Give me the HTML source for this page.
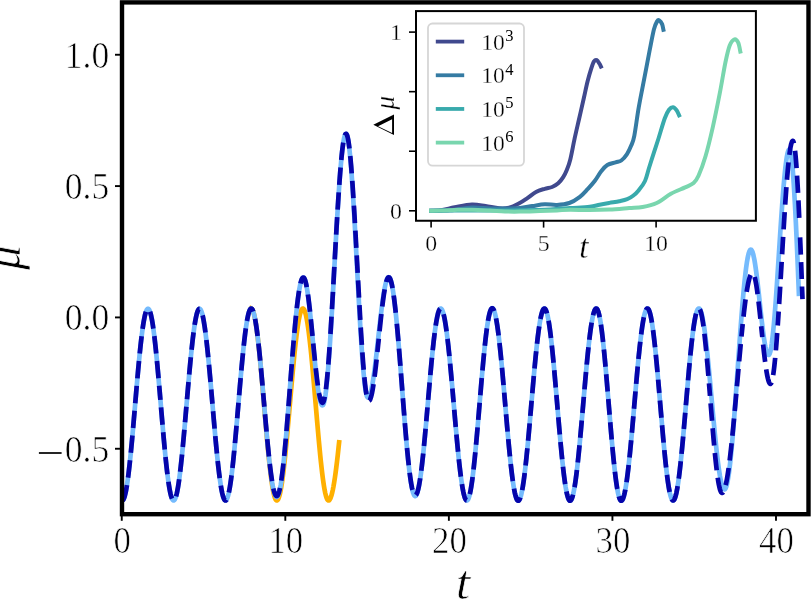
<!DOCTYPE html>
<html><head><meta charset="utf-8"><style>
html,body{margin:0;padding:0;background:#fff;width:811px;height:599px;overflow:hidden}
svg{display:block;font-family:"Liberation Serif",serif;fill:#000;will-change:transform}
text{stroke:#fff;stroke-width:0.3px}
.b{stroke-width:0.7px}
.s{stroke-width:0px}
</style></head><body>
<svg width="811" height="599" viewBox="0 0 811 599">
<defs><clipPath id="ax"><rect x="122" y="2.4" width="686.5" height="511.8"/></clipPath><clipPath id="iax"><rect x="416" y="11.1" width="339.9" height="209.65"/></clipPath></defs>
<g clip-path="url(#ax)" fill="none" stroke-linejoin="round">
<path d="M251.21 308.49 L251.85 308.79 L252.49 309.67 L253.13 311.14 L253.77 313.19 L254.41 315.80 L255.05 318.95 L255.69 322.64 L256.33 326.82 L256.97 331.49 L257.61 336.61 L258.25 342.14 L258.89 348.06 L259.53 354.33 L260.17 360.91 L260.81 367.76 L261.45 374.83 L262.09 382.08 L262.73 389.48 L263.37 396.96 L264.01 404.50 L264.65 412.03 L265.29 419.51 L265.93 426.91 L266.57 434.16 L267.21 441.23 L267.85 448.08 L268.49 454.66 L269.13 460.93 L269.77 466.85 L270.41 472.38 L271.05 477.50 L271.69 482.17 L272.33 486.35 L272.97 490.04 L273.61 493.19 L274.25 495.80 L274.89 497.85 L275.53 499.32 L276.16 500.21 L276.80 500.50 L277.46 500.21 L278.11 499.32 L278.76 497.85 L279.41 495.80 L280.07 493.19 L280.72 490.04 L281.37 486.35 L282.02 482.17 L282.67 477.50 L283.33 472.38 L283.98 466.85 L284.63 460.93 L285.28 454.66 L285.94 448.08 L286.59 441.23 L287.24 434.16 L287.89 426.91 L288.54 419.51 L289.20 412.03 L289.85 404.50 L290.50 396.96 L291.15 389.48 L291.81 382.08 L292.46 374.83 L293.11 367.76 L293.76 360.91 L294.41 354.33 L295.07 348.06 L295.72 342.14 L296.37 336.61 L297.02 331.49 L297.68 326.82 L298.33 322.64 L298.98 318.95 L299.63 315.80 L300.28 313.19 L300.94 311.14 L301.59 309.67 L302.24 308.79 L302.89 308.49 L303.53 308.79 L304.17 309.67 L304.81 311.14 L305.45 313.19 L306.09 315.80 L306.73 318.95 L307.37 322.64 L308.01 326.82 L308.65 331.49 L309.29 336.61 L309.93 342.14 L310.57 348.06 L311.21 354.33 L311.85 360.91 L312.49 367.76 L313.13 374.83 L313.77 382.08 L314.41 389.48 L315.05 396.96 L315.69 404.50 L316.33 412.03 L316.97 419.51 L317.61 426.91 L318.25 434.16 L318.89 441.23 L319.53 448.08 L320.17 454.66 L320.81 460.93 L321.45 466.85 L322.09 472.38 L322.73 477.50 L323.37 482.17 L324.01 486.35 L324.65 490.04 L325.29 493.19 L325.93 495.80 L326.57 497.85 L327.21 499.32 L327.85 500.21 L328.49 500.50 L329.21 500.21 L329.92 499.32 L330.64 497.85 L331.35 495.80 L332.07 493.19 L332.78 490.04 L333.50 486.35 L334.21 482.17 L334.93 477.50 L335.65 472.38 L336.36 466.85 L337.08 460.93 L337.79 454.66 L338.51 448.08 L339.12 442.23" stroke="#ffb000" stroke-width="4.70" stroke-linecap="square"/>
<path d="M122.24 500.50 L122.88 500.21 L123.53 499.32 L124.17 497.85 L124.82 495.81 L125.46 493.20 L126.10 490.05 L126.75 486.37 L127.39 482.19 L128.04 477.53 L128.68 472.42 L129.32 466.89 L129.97 460.98 L130.61 454.72 L131.26 448.15 L131.90 441.32 L132.54 434.25 L133.19 427.01 L133.83 419.62 L134.48 412.15 L135.12 404.63 L135.77 397.10 L136.41 389.63 L137.05 382.24 L137.70 375.00 L138.34 367.94 L138.99 361.10 L139.63 354.53 L140.27 348.27 L140.92 342.36 L141.56 336.83 L142.21 331.72 L142.85 327.06 L143.49 322.88 L144.14 319.20 L144.78 316.05 L145.43 313.44 L146.07 311.40 L146.71 309.93 L147.36 309.05 L148.00 308.75 L148.64 309.05 L149.28 309.93 L149.92 311.40 L150.56 313.44 L151.20 316.05 L151.84 319.20 L152.48 322.88 L153.12 327.06 L153.76 331.72 L154.40 336.83 L155.04 342.36 L155.68 348.27 L156.32 354.53 L156.96 361.10 L157.60 367.94 L158.24 375.00 L158.88 382.24 L159.52 389.63 L160.16 397.10 L160.80 404.63 L161.44 412.15 L162.08 419.62 L162.72 427.01 L163.36 434.25 L164.00 441.32 L164.64 448.15 L165.28 454.72 L165.92 460.98 L166.56 466.89 L167.20 472.42 L167.84 477.53 L168.48 482.19 L169.12 486.37 L169.76 490.05 L170.40 493.20 L171.04 495.81 L171.68 497.85 L172.32 499.32 L172.96 500.21 L173.60 500.50 L174.25 500.21 L174.89 499.32 L175.54 497.85 L176.19 495.81 L176.84 493.20 L177.48 490.05 L178.13 486.37 L178.78 482.19 L179.43 477.53 L180.08 472.42 L180.72 466.89 L181.37 460.98 L182.02 454.72 L182.67 448.15 L183.31 441.32 L183.96 434.25 L184.61 427.01 L185.26 419.62 L185.90 412.15 L186.55 404.63 L187.20 397.10 L187.85 389.63 L188.50 382.24 L189.14 375.00 L189.79 367.94 L190.44 361.10 L191.09 354.53 L191.73 348.27 L192.38 342.36 L193.03 336.83 L193.68 331.72 L194.32 327.06 L194.97 322.88 L195.62 319.20 L196.27 316.05 L196.92 313.44 L197.56 311.40 L198.21 309.93 L198.86 309.05 L199.51 308.75 L200.16 309.05 L200.81 309.93 L201.46 311.40 L202.11 313.44 L202.76 316.05 L203.40 319.20 L204.05 322.88 L204.70 327.06 L205.35 331.72 L206.00 336.83 L206.65 342.36 L207.30 348.27 L207.95 354.53 L208.60 361.10 L209.25 367.94 L209.90 375.00 L210.55 382.24 L211.20 389.63 L211.85 397.10 L212.50 404.63 L213.15 412.15 L213.80 419.62 L214.45 427.01 L215.10 434.25 L215.75 441.32 L216.40 448.15 L217.05 454.72 L217.70 460.98 L218.35 466.89 L219.00 472.42 L219.65 477.53 L220.30 482.19 L220.95 486.37 L221.60 490.05 L222.25 493.20 L222.90 495.81 L223.55 497.85 L224.20 499.32 L224.85 500.21 L225.50 500.50 L226.14 500.21 L226.78 499.32 L227.42 497.85 L228.07 495.80 L228.71 493.19 L229.35 490.04 L230.00 486.35 L230.64 482.17 L231.28 477.50 L231.92 472.38 L232.57 466.85 L233.21 460.93 L233.85 454.66 L234.50 448.08 L235.14 441.23 L235.78 434.16 L236.42 426.91 L237.07 419.51 L237.71 412.03 L238.35 404.50 L238.99 396.96 L239.64 389.48 L240.28 382.08 L240.92 374.83 L241.57 367.76 L242.21 360.91 L242.85 354.33 L243.49 348.06 L244.14 342.14 L244.78 336.61 L245.42 331.49 L246.07 326.82 L246.71 322.64 L247.35 318.95 L247.99 315.80 L248.64 313.19 L249.28 311.14 L249.92 309.67 L250.56 308.79 L251.21 308.49 L251.85 308.78 L252.48 309.65 L253.12 311.09 L253.76 313.10 L254.40 315.67 L255.03 318.77 L255.67 322.39 L256.31 326.50 L256.95 331.08 L257.58 336.11 L258.22 341.55 L258.86 347.36 L259.49 353.52 L260.13 359.98 L260.77 366.70 L261.41 373.65 L262.04 380.77 L262.68 388.04 L263.32 395.39 L263.96 402.79 L264.59 410.19 L265.23 417.54 L265.87 424.80 L266.51 431.93 L267.14 438.87 L267.78 445.60 L268.42 452.06 L269.06 458.22 L269.69 464.03 L270.33 469.47 L270.97 474.49 L271.61 479.08 L272.24 483.19 L272.88 486.81 L273.52 489.91 L274.16 492.47 L274.79 494.48 L275.43 495.93 L276.07 496.80 L276.71 497.09 L277.37 496.75 L278.04 495.73 L278.70 494.05 L279.37 491.71 L280.03 488.73 L280.70 485.12 L281.36 480.91 L282.03 476.12 L282.69 470.78 L283.36 464.93 L284.02 458.60 L284.69 451.83 L285.35 444.66 L286.01 437.14 L286.68 429.31 L287.34 421.22 L288.01 412.92 L288.67 404.47 L289.34 395.90 L290.00 387.29 L290.67 378.68 L291.33 370.11 L292.00 361.66 L292.66 353.36 L293.33 345.27 L293.99 337.44 L294.66 329.92 L295.32 322.75 L295.99 315.98 L296.65 309.65 L297.32 303.80 L297.98 298.46 L298.65 293.67 L299.31 289.46 L299.98 285.85 L300.64 282.87 L301.31 280.53 L301.97 278.85 L302.64 277.83 L303.30 277.49 L303.78 277.69 L304.26 278.28 L304.74 279.26 L305.22 280.62 L305.70 282.36 L306.18 284.47 L306.66 286.92 L307.14 289.71 L307.62 292.82 L308.10 296.23 L308.58 299.92 L309.06 303.86 L309.54 308.04 L310.02 312.42 L310.50 316.98 L310.98 321.69 L311.46 326.52 L311.94 331.45 L312.42 336.44 L312.90 341.45 L313.38 346.47 L313.86 351.46 L314.34 356.39 L314.82 361.22 L315.30 365.93 L315.78 370.49 L316.26 374.87 L316.74 379.05 L317.22 382.99 L317.70 386.68 L318.18 390.09 L318.66 393.20 L319.14 395.99 L319.62 398.44 L320.10 400.55 L320.58 402.28 L321.06 403.65 L321.54 404.63 L322.02 405.22 L322.50 405.41 L323.09 405.00 L323.68 403.74 L324.27 401.66 L324.85 398.77 L325.44 395.08 L326.03 390.61 L326.62 385.40 L327.20 379.48 L327.79 372.88 L328.38 365.64 L328.97 357.81 L329.55 349.44 L330.14 340.57 L330.73 331.27 L331.32 321.58 L331.90 311.58 L332.49 301.32 L333.08 290.86 L333.67 280.27 L334.26 269.61 L334.84 258.96 L335.43 248.37 L336.02 237.91 L336.61 227.65 L337.19 217.65 L337.78 207.96 L338.37 198.66 L338.96 189.79 L339.54 181.42 L340.13 173.59 L340.72 166.35 L341.31 159.75 L341.89 153.83 L342.48 148.62 L343.07 144.15 L343.66 140.46 L344.24 137.57 L344.83 135.49 L345.42 134.23 L346.01 133.81 L346.55 134.22 L347.10 135.44 L347.65 137.46 L348.20 140.27 L348.74 143.85 L349.29 148.19 L349.84 153.24 L350.39 159.00 L350.93 165.41 L351.48 172.43 L352.03 180.04 L352.58 188.17 L353.12 196.78 L353.67 205.81 L354.22 215.21 L354.77 224.93 L355.31 234.89 L355.86 245.05 L356.41 255.33 L356.96 265.67 L357.50 276.02 L358.05 286.30 L358.60 296.46 L359.15 306.42 L359.70 316.13 L360.24 325.54 L360.79 334.57 L361.34 343.18 L361.89 351.31 L362.43 358.91 L362.98 365.94 L363.53 372.35 L364.08 378.10 L364.62 383.16 L365.17 387.50 L365.72 391.08 L366.27 393.89 L366.81 395.91 L367.36 397.13 L367.91 397.53 L368.43 397.35 L368.95 396.79 L369.47 395.87 L369.99 394.59 L370.51 392.96 L371.03 390.98 L371.55 388.67 L372.08 386.05 L372.60 383.12 L373.12 379.92 L373.64 376.45 L374.16 372.74 L374.68 368.81 L375.20 364.69 L375.72 360.40 L376.24 355.97 L376.76 351.42 L377.28 346.79 L377.81 342.10 L378.33 337.38 L378.85 332.66 L379.37 327.97 L379.89 323.34 L380.41 318.80 L380.93 314.36 L381.45 310.07 L381.97 305.95 L382.49 302.03 L383.02 298.32 L383.54 294.85 L384.06 291.64 L384.58 288.72 L385.10 286.10 L385.62 283.79 L386.14 281.81 L386.66 280.18 L387.18 278.89 L387.70 277.97 L388.22 277.42 L388.75 277.23 L389.41 277.57 L390.07 278.58 L390.73 280.25 L391.39 282.59 L392.05 285.56 L392.71 289.16 L393.37 293.35 L394.03 298.13 L394.70 303.44 L395.36 309.27 L396.02 315.58 L396.68 322.33 L397.34 329.47 L398.00 336.97 L398.66 344.77 L399.32 352.83 L399.99 361.09 L400.65 369.52 L401.31 378.05 L401.97 386.63 L402.63 395.22 L403.29 403.75 L403.95 412.17 L404.61 420.44 L405.28 428.50 L405.94 436.30 L406.60 443.80 L407.26 450.94 L407.92 457.68 L408.58 463.99 L409.24 469.82 L409.90 475.14 L410.56 479.91 L411.23 484.11 L411.89 487.71 L412.55 490.68 L413.21 493.01 L413.87 494.69 L414.53 495.70 L415.19 496.04 L415.83 495.75 L416.47 494.88 L417.11 493.44 L417.74 491.45 L418.38 488.90 L419.02 485.81 L419.66 482.22 L420.29 478.13 L420.93 473.57 L421.57 468.57 L422.21 463.16 L422.84 457.38 L423.48 451.26 L424.12 444.83 L424.76 438.15 L425.39 431.24 L426.03 424.15 L426.67 416.93 L427.31 409.62 L427.94 402.26 L428.58 394.91 L429.22 387.59 L429.85 380.37 L430.49 373.28 L431.13 366.38 L431.77 359.69 L432.40 353.27 L433.04 347.14 L433.68 341.36 L434.32 335.95 L434.95 330.96 L435.59 326.40 L436.23 322.31 L436.87 318.71 L437.50 315.63 L438.14 313.08 L438.78 311.08 L439.42 309.64 L440.05 308.78 L440.69 308.49 L441.35 308.79 L442.00 309.67 L442.65 311.14 L443.31 313.19 L443.96 315.80 L444.62 318.95 L445.27 322.64 L445.93 326.82 L446.58 331.49 L447.23 336.61 L447.89 342.14 L448.54 348.06 L449.20 354.33 L449.85 360.91 L450.51 367.76 L451.16 374.83 L451.81 382.08 L452.47 389.48 L453.12 396.96 L453.78 404.50 L454.43 412.03 L455.09 419.51 L455.74 426.91 L456.39 434.16 L457.05 441.23 L457.70 448.08 L458.36 454.66 L459.01 460.93 L459.66 466.85 L460.32 472.38 L460.97 477.50 L461.63 482.17 L462.28 486.35 L462.94 490.04 L463.59 493.19 L464.24 495.80 L464.90 497.85 L465.55 499.32 L466.21 500.21 L466.86 500.50 L467.50 500.20 L468.13 499.32 L468.76 497.84 L469.40 495.80 L470.03 493.18 L470.66 490.02 L471.30 486.33 L471.93 482.14 L472.57 477.47 L473.20 472.34 L473.83 466.80 L474.47 460.87 L475.10 454.60 L475.73 448.01 L476.37 441.15 L477.00 434.07 L477.64 426.81 L478.27 419.40 L478.90 411.91 L479.54 404.36 L480.17 396.82 L480.81 389.32 L481.44 381.92 L482.07 374.66 L482.71 367.57 L483.34 360.72 L483.97 354.13 L484.61 347.86 L485.24 341.93 L485.88 336.38 L486.51 331.26 L487.14 326.59 L487.78 322.39 L488.41 318.70 L489.04 315.54 L489.68 312.93 L490.31 310.88 L490.95 309.41 L491.58 308.52 L492.21 308.23 L492.86 308.52 L493.51 309.41 L494.16 310.89 L494.81 312.94 L495.46 315.55 L496.11 318.72 L496.76 322.41 L497.41 326.61 L498.06 331.29 L498.71 336.42 L499.37 341.97 L500.02 347.91 L500.67 354.19 L501.32 360.79 L501.97 367.65 L502.62 374.75 L503.27 382.02 L503.92 389.44 L504.57 396.94 L505.22 404.50 L505.87 412.05 L506.52 419.55 L507.17 426.97 L507.82 434.24 L508.47 441.34 L509.12 448.20 L509.77 454.80 L510.42 461.08 L511.07 467.02 L511.72 472.57 L512.37 477.70 L513.02 482.38 L513.67 486.58 L514.32 490.27 L514.97 493.44 L515.62 496.05 L516.27 498.10 L516.92 499.58 L517.57 500.47 L518.22 500.76 L518.87 500.47 L519.53 499.58 L520.18 498.11 L520.84 496.06 L521.49 493.45 L522.14 490.29 L522.80 486.60 L523.45 482.40 L524.11 477.73 L524.76 472.61 L525.42 467.06 L526.07 461.13 L526.72 454.86 L527.38 448.27 L528.03 441.42 L528.69 434.33 L529.34 427.07 L530.00 419.67 L530.65 412.17 L531.30 404.63 L531.96 397.08 L532.61 389.59 L533.27 382.18 L533.92 374.92 L534.58 367.84 L535.23 360.98 L535.88 354.39 L536.54 348.12 L537.19 342.19 L537.85 336.65 L538.50 331.52 L539.16 326.85 L539.81 322.66 L540.46 318.97 L541.12 315.81 L541.77 313.19 L542.43 311.15 L543.08 309.67 L543.73 308.79 L544.39 308.49 L545.03 308.79 L545.67 309.67 L546.31 311.15 L546.96 313.19 L547.60 315.81 L548.24 318.97 L548.88 322.66 L549.52 326.85 L550.17 331.52 L550.81 336.65 L551.45 342.19 L552.09 348.12 L552.73 354.39 L553.38 360.98 L554.02 367.84 L554.66 374.92 L555.30 382.18 L555.94 389.59 L556.59 397.08 L557.23 404.63 L557.87 412.17 L558.51 419.67 L559.15 427.07 L559.80 434.33 L560.44 441.42 L561.08 448.27 L561.72 454.86 L562.36 461.13 L563.01 467.06 L563.65 472.61 L564.29 477.73 L564.93 482.40 L565.57 486.60 L566.22 490.29 L566.86 493.45 L567.50 496.06 L568.14 498.11 L568.78 499.58 L569.43 500.47 L570.07 500.76 L570.72 500.47 L571.38 499.58 L572.03 498.11 L572.68 496.06 L573.34 493.45 L573.99 490.29 L574.65 486.60 L575.30 482.40 L575.96 477.73 L576.61 472.61 L577.26 467.06 L577.92 461.13 L578.57 454.86 L579.23 448.27 L579.88 441.42 L580.54 434.33 L581.19 427.07 L581.84 419.67 L582.50 412.17 L583.15 404.63 L583.81 397.08 L584.46 389.59 L585.12 382.18 L585.77 374.92 L586.42 367.84 L587.08 360.98 L587.73 354.39 L588.39 348.12 L589.04 342.19 L589.70 336.65 L590.35 331.52 L591.00 326.85 L591.66 322.66 L592.31 318.97 L592.97 315.81 L593.62 313.19 L594.27 311.15 L594.93 309.67 L595.58 308.79 L596.24 308.49 L596.86 308.79 L597.49 309.67 L598.11 311.15 L598.74 313.19 L599.37 315.81 L599.99 318.97 L600.62 322.66 L601.24 326.85 L601.87 331.52 L602.49 336.65 L603.12 342.19 L603.74 348.12 L604.37 354.39 L605.00 360.98 L605.62 367.84 L606.25 374.92 L606.87 382.18 L607.50 389.59 L608.12 397.08 L608.75 404.63 L609.38 412.17 L610.00 419.67 L610.63 427.07 L611.25 434.33 L611.88 441.42 L612.50 448.27 L613.13 454.86 L613.75 461.13 L614.38 467.06 L615.01 472.61 L615.63 477.73 L616.26 482.40 L616.88 486.60 L617.51 490.29 L618.13 493.45 L618.76 496.06 L619.39 498.11 L620.01 499.58 L620.64 500.47 L621.26 500.76 L621.92 500.47 L622.57 499.58 L623.22 498.11 L623.88 496.06 L624.53 493.45 L625.19 490.29 L625.84 486.60 L626.50 482.40 L627.15 477.73 L627.80 472.61 L628.46 467.06 L629.11 461.13 L629.77 454.86 L630.42 448.27 L631.08 441.42 L631.73 434.33 L632.38 427.07 L633.04 419.67 L633.69 412.17 L634.35 404.63 L635.00 397.08 L635.66 389.59 L636.31 382.18 L636.96 374.92 L637.62 367.84 L638.27 360.98 L638.93 354.39 L639.58 348.12 L640.24 342.19 L640.89 336.65 L641.54 331.52 L642.20 326.85 L642.85 322.66 L643.51 318.97 L644.16 315.81 L644.81 313.19 L645.47 311.15 L646.12 309.67 L646.78 308.79 L647.43 308.49 L648.07 308.79 L648.72 309.67 L649.36 311.14 L650.00 313.19 L650.64 315.80 L651.28 318.95 L651.93 322.64 L652.57 326.82 L653.21 331.49 L653.85 336.61 L654.49 342.14 L655.14 348.06 L655.78 354.33 L656.42 360.91 L657.06 367.76 L657.70 374.83 L658.35 382.08 L658.99 389.48 L659.63 396.96 L660.27 404.50 L660.91 412.03 L661.56 419.51 L662.20 426.91 L662.84 434.16 L663.48 441.23 L664.12 448.08 L664.77 454.66 L665.41 460.93 L666.05 466.85 L666.69 472.38 L667.33 477.50 L667.97 482.17 L668.62 486.35 L669.26 490.04 L669.90 493.19 L670.54 495.80 L671.18 497.85 L671.83 499.32 L672.47 500.21 L673.11 500.50 L673.75 500.21 L674.39 499.32 L675.04 497.85 L675.68 495.80 L676.32 493.19 L676.96 490.04 L677.60 486.35 L678.25 482.17 L678.89 477.50 L679.53 472.38 L680.17 466.85 L680.81 460.93 L681.46 454.66 L682.10 448.08 L682.74 441.23 L683.38 434.16 L684.02 426.91 L684.67 419.51 L685.31 412.03 L685.95 404.50 L686.59 396.96 L687.23 389.48 L687.88 382.08 L688.52 374.83 L689.16 367.76 L689.80 360.91 L690.44 354.33 L691.09 348.06 L691.73 342.14 L692.37 336.61 L693.01 331.49 L693.65 326.82 L694.30 322.64 L694.94 318.95 L695.58 315.80 L696.22 313.19 L696.86 311.14 L697.51 309.67 L698.15 308.79 L698.79 308.49 L699.43 308.77 L700.07 309.60 L700.72 310.99 L701.36 312.92 L702.00 315.38 L702.64 318.35 L703.28 321.82 L703.93 325.77 L704.57 330.17 L705.21 334.99 L705.85 340.21 L706.49 345.79 L707.14 351.70 L707.78 357.90 L708.42 364.35 L709.06 371.02 L709.70 377.85 L710.35 384.82 L710.99 391.88 L711.63 398.98 L712.27 406.08 L712.91 413.13 L713.56 420.10 L714.20 426.94 L714.84 433.61 L715.48 440.06 L716.12 446.26 L716.76 452.17 L717.41 457.75 L718.05 462.96 L718.69 467.79 L719.33 472.19 L719.97 476.13 L720.62 479.61 L721.26 482.58 L721.90 485.04 L722.54 486.97 L723.18 488.35 L723.83 489.19 L724.47 489.47 L725.13 489.10 L725.79 487.99 L726.44 486.16 L727.10 483.60 L727.76 480.34 L728.42 476.40 L729.08 471.80 L729.74 466.57 L730.39 460.74 L731.05 454.35 L731.71 447.43 L732.37 440.04 L733.03 432.21 L733.69 424.00 L734.34 415.45 L735.00 406.61 L735.66 397.55 L736.32 388.32 L736.98 378.97 L737.64 369.56 L738.29 360.15 L738.95 350.80 L739.61 341.57 L740.27 332.51 L740.93 323.67 L741.59 315.12 L742.24 306.91 L742.90 299.08 L743.56 291.69 L744.22 284.77 L744.88 278.38 L745.54 272.55 L746.19 267.32 L746.85 262.72 L747.51 258.78 L748.17 255.52 L748.83 252.96 L749.49 251.13 L750.14 250.02 L750.80 249.65 L751.25 249.81 L751.69 250.30 L752.14 251.11 L752.58 252.23 L753.03 253.66 L753.48 255.39 L753.92 257.41 L754.37 259.71 L754.81 262.27 L755.26 265.08 L755.70 268.11 L756.15 271.36 L756.60 274.80 L757.04 278.41 L757.49 282.16 L757.93 286.04 L758.38 290.02 L758.82 294.08 L759.27 298.18 L759.72 302.32 L760.16 306.45 L760.61 310.56 L761.05 314.61 L761.50 318.59 L761.94 322.47 L762.39 326.23 L762.84 329.83 L763.28 333.27 L763.73 336.52 L764.17 339.56 L764.62 342.36 L765.06 344.92 L765.51 347.22 L765.96 349.24 L766.40 350.97 L766.85 352.40 L767.29 353.53 L767.74 354.33 L768.18 354.82 L768.63 354.98 L769.15 354.66 L769.67 353.72 L770.19 352.14 L770.71 349.95 L771.23 347.15 L771.75 343.77 L772.26 339.83 L772.78 335.34 L773.30 330.34 L773.82 324.86 L774.34 318.93 L774.86 312.59 L775.38 305.88 L775.90 298.83 L776.42 291.50 L776.94 283.92 L777.46 276.15 L777.98 268.23 L778.50 260.21 L779.02 252.15 L779.54 244.08 L780.05 236.06 L780.57 228.14 L781.09 220.37 L781.61 212.79 L782.13 205.46 L782.65 198.42 L783.17 191.70 L783.69 185.36 L784.21 179.43 L784.73 173.95 L785.25 168.95 L785.77 164.46 L786.29 160.52 L786.81 157.14 L787.32 154.34 L787.84 152.15 L788.36 150.58 L788.88 149.63 L789.40 149.31 L789.94 149.85 L790.47 151.48 L791.01 154.17 L791.54 157.92 L792.08 162.71 L792.62 168.49 L793.15 175.24 L793.69 182.92 L794.22 191.48 L794.76 200.86 L795.29 211.00 L795.83 221.86 L796.37 233.35 L796.90 245.40 L797.44 257.95 L797.97 270.92 L798.51 284.22 L798.89 293.82" stroke="#75bbfd" stroke-width="4.70" stroke-linecap="square"/>
<g stroke="#0504aa" stroke-width="4.70" stroke-dasharray="17.39 7.52">
<path d="M121.75 500.33 L122.07 500.48 L122.39 500.48 L122.71 500.34 L123.04 500.05 L123.36 499.61 L123.68 499.03 L124.00 498.31 L124.32 497.43 L124.64 496.42 L124.96 495.27 L125.28 493.97 L125.61 492.54 L125.93 490.98 L126.25 489.28 L126.57 487.45 L126.89 485.50 L127.21 483.42 L127.53 481.22 L127.85 478.90 L128.18 476.47 L128.50 473.92 L128.82 471.28 L129.14 468.52 L129.46 465.68 L129.78 462.73 L130.10 459.70 L130.42 456.58 L130.75 453.39 L131.07 450.12 L131.39 446.78 L131.71 443.37 L132.03 439.91 L132.35 436.39 L132.67 432.82 L132.99 429.21 L133.32 425.56 L133.64 421.88 L133.96 418.17 L134.28 414.44 L134.60 410.70" stroke-dashoffset="0.30"/>
<path d="M134.60 410.70 L134.93 406.89 L135.25 403.07 L135.58 399.25 L135.91 395.45 L136.23 391.65 L136.56 387.88 L136.89 384.14 L137.21 380.42 L137.54 376.75 L137.87 373.12 L138.19 369.54 L138.52 366.02 L138.85 362.55 L139.17 359.16 L139.50 355.83 L139.83 352.59 L140.15 349.42 L140.48 346.34 L140.81 343.36 L141.13 340.47 L141.46 337.69 L141.79 335.01 L142.11 332.44 L142.44 329.98 L142.76 327.65 L143.09 325.43 L143.42 323.34 L143.74 321.38 L144.07 319.56 L144.40 317.86 L144.72 316.31 L145.05 314.89 L145.38 313.62 L145.70 312.49 L146.03 311.51 L146.36 310.67 L146.68 309.99 L147.01 309.45 L147.34 309.07 L147.66 308.83 L147.99 308.75 L148.32 308.82 L148.64 309.05 L148.97 309.43 L149.30 309.96 L149.62 310.64 L149.95 311.48 L150.28 312.46 L150.60 313.59 L150.93 314.87 L151.25 316.29 L151.58 317.86 L151.91 319.56 L152.23 321.40 L152.56 323.38 L152.89 325.48 L153.21 327.71 L153.54 330.07 L153.87 332.54 L154.19 335.13 L154.52 337.84 L154.85 340.65 L155.17 343.56 L155.50 346.57 L155.83 349.67 L156.15 352.86 L156.48 356.14 L156.81 359.49 L157.13 362.92 L157.46 366.41 L157.79 369.96 L158.11 373.57 L158.44 377.23 L158.77 380.93 L159.09 384.68 L159.42 388.45 L159.75 392.25 L160.07 396.07 L160.40 399.90" stroke-dashoffset="17.39"/>
<path d="M160.40 399.90 L160.72 403.72 L161.05 407.54 L161.37 411.35 L161.70 415.15 L162.02 418.94 L162.35 422.71 L162.67 426.44 L162.99 430.14 L163.32 433.80 L163.64 437.42 L163.97 440.98 L164.29 444.48 L164.62 447.92 L164.94 451.30 L165.27 454.60 L165.59 457.81 L165.92 460.95 L166.24 464.00 L166.57 466.95 L166.89 469.80 L167.21 472.55 L167.54 475.19 L167.86 477.72 L168.19 480.13 L168.51 482.42 L168.84 484.59 L169.16 486.64 L169.49 488.55 L169.81 490.33 L170.14 491.97 L170.46 493.48 L170.79 494.84 L171.11 496.06 L171.43 497.14 L171.76 498.07 L172.08 498.85 L172.41 499.48 L172.73 499.96 L173.06 500.29 L173.38 500.47 L173.71 500.49 L174.03 500.37 L174.36 500.10 L174.68 499.68 L175.00 499.11 L175.33 498.40 L175.65 497.54 L175.98 496.54 L176.30 495.39 L176.63 494.11 L176.95 492.68 L177.28 491.12 L177.60 489.43 L177.93 487.60 L178.25 485.65 L178.58 483.57 L178.90 481.36 L179.22 479.04 L179.55 476.61 L179.87 474.06 L180.20 471.40 L180.52 468.64 L180.85 465.79 L181.17 462.83 L181.50 459.79 L181.82 456.66 L182.15 453.45 L182.47 450.17 L182.79 446.81 L183.12 443.39 L183.44 439.91 L183.77 436.38 L184.09 432.79 L184.42 429.17 L184.74 425.50 L185.07 421.80 L185.39 418.08 L185.72 414.33 L186.04 410.57 L186.37 406.80" stroke-dashoffset="17.39"/>
<path d="M186.37 406.80 L186.69 403.01 L187.02 399.23 L187.34 395.45 L187.67 391.69 L187.99 387.95 L188.32 384.23 L188.65 380.55 L188.97 376.90 L189.30 373.30 L189.62 369.74 L189.95 366.24 L190.28 362.80 L190.60 359.43 L190.93 356.12 L191.25 352.89 L191.58 349.75 L191.90 346.68 L192.23 343.71 L192.56 340.84 L192.88 338.06 L193.21 335.39 L193.53 332.82 L193.86 330.37 L194.18 328.03 L194.51 325.81 L194.84 323.72 L195.16 321.75 L195.49 319.91 L195.81 318.20 L196.14 316.63 L196.47 315.20 L196.79 313.90 L197.12 312.75 L197.44 311.74 L197.77 310.87 L198.09 310.15 L198.42 309.58 L198.75 309.16 L199.07 308.88 L199.40 308.76 L199.72 308.78 L200.05 308.96 L200.38 309.28 L200.70 309.75 L201.03 310.37 L201.35 311.13 L201.68 312.04 L202.00 313.09 L202.33 314.28 L202.66 315.62 L202.98 317.09 L203.31 318.69 L203.63 320.44 L203.96 322.31 L204.28 324.31 L204.61 326.43 L204.94 328.67 L205.26 331.04 L205.59 333.51 L205.91 336.10 L206.24 338.79 L206.57 341.59 L206.89 344.48 L207.22 347.47 L207.54 350.54 L207.87 353.70 L208.19 356.94 L208.52 360.25 L208.85 363.63 L209.17 367.07 L209.50 370.58 L209.82 374.13 L210.15 377.73 L210.48 381.38 L210.80 385.06 L211.13 388.77 L211.45 392.51 L211.78 396.26 L212.10 400.03 L212.43 403.80" stroke-dashoffset="17.39"/>
<path d="M212.43 403.80 L212.76 407.58 L213.08 411.35 L213.41 415.11 L213.73 418.85 L214.06 422.57 L214.38 426.27 L214.71 429.93 L215.04 433.55 L215.36 437.13 L215.69 440.65 L216.01 444.12 L216.34 447.53 L216.67 450.88 L216.99 454.15 L217.32 457.34 L217.64 460.45 L217.97 463.48 L218.29 466.41 L218.62 469.25 L218.95 471.99 L219.27 474.63 L219.60 477.15 L219.92 479.56 L220.25 481.86 L220.58 484.04 L220.90 486.09 L221.23 488.02 L221.55 489.82 L221.88 491.48 L222.20 493.01 L222.53 494.41 L222.86 495.66 L223.18 496.78 L223.51 497.75 L223.83 498.57 L224.16 499.25 L224.49 499.79 L224.81 500.17 L225.14 500.41 L225.46 500.50 L225.79 500.44 L226.11 500.23 L226.44 499.86 L226.77 499.35 L227.09 498.68 L227.42 497.87 L227.74 496.90 L228.07 495.79 L228.40 494.54 L228.72 493.14 L229.05 491.60 L229.37 489.93 L229.70 488.12 L230.02 486.17 L230.35 484.10 L230.68 481.90 L231.00 479.58 L231.33 477.14 L231.65 474.58 L231.98 471.92 L232.31 469.14 L232.63 466.27 L232.96 463.29 L233.28 460.23 L233.61 457.07 L233.93 453.83 L234.26 450.51 L234.59 447.12 L234.91 443.67 L235.24 440.15 L235.56 436.57 L235.89 432.94 L236.22 429.27 L236.54 425.56 L236.87 421.82 L237.19 418.04 L237.52 414.25 L237.84 410.44 L238.17 406.62 L238.50 402.80" stroke-dashoffset="17.39"/>
<path d="M238.50 402.80 L238.82 399.01 L239.14 395.23 L239.47 391.47 L239.79 387.72 L240.11 384.00 L240.44 380.32 L240.76 376.67 L241.08 373.06 L241.40 369.51 L241.73 366.00 L242.05 362.56 L242.37 359.19 L242.70 355.88 L243.02 352.65 L243.34 349.50 L243.67 346.44 L243.99 343.46 L244.31 340.58 L244.64 337.81 L244.96 335.13 L245.28 332.57 L245.61 330.11 L245.93 327.77 L246.25 325.55 L246.58 323.46 L246.90 321.49 L247.22 319.65 L247.55 317.94 L247.87 316.37 L248.19 314.94 L248.51 313.64 L248.84 312.49 L249.16 311.48 L249.48 310.61 L249.81 309.89 L250.13 309.32 L250.45 308.90 L250.78 308.62 L251.10 308.50 L251.42 308.52 L251.75 308.70 L252.07 309.02 L252.39 309.49 L252.72 310.10 L253.04 310.87 L253.36 311.77 L253.69 312.82 L254.01 314.02 L254.33 315.35 L254.66 316.82 L254.98 318.43 L255.30 320.17 L255.62 322.03 L255.95 324.03 L256.27 326.15 L256.59 328.39 L256.92 330.75 L257.24 333.22 L257.56 335.80 L257.89 338.49 L258.21 341.27 L258.53 344.16 L258.86 347.13 L259.18 350.20 L259.50 353.34 L259.83 356.56 L260.15 359.86 L260.47 363.22 L260.80 366.65 L261.12 370.13 L261.44 373.66 L261.76 377.24 L262.09 380.86 L262.41 384.51 L262.73 388.19 L263.06 391.89 L263.38 395.61 L263.70 399.33 L264.03 403.07 L264.35 406.80" stroke-dashoffset="17.39"/>
<path d="M264.35 406.80 L264.68 410.56 L265.00 414.31 L265.33 418.03 L265.65 421.73 L265.98 425.40 L266.31 429.03 L266.63 432.62 L266.96 436.16 L267.29 439.65 L267.61 443.07 L267.94 446.43 L268.26 449.72 L268.59 452.93 L268.92 456.06 L269.24 459.10 L269.57 462.05 L269.89 464.91 L270.22 467.66 L270.55 470.31 L270.87 472.84 L271.20 475.27 L271.53 477.57 L271.85 479.76 L272.18 481.81 L272.50 483.74 L272.83 485.54 L273.16 487.21 L273.48 488.74 L273.81 490.12 L274.14 491.37 L274.46 492.47 L274.79 493.43 L275.11 494.24 L275.44 494.90 L275.77 495.41 L276.09 495.77 L276.42 495.98 L276.74 496.03 L277.07 495.93 L277.40 495.67 L277.72 495.25 L278.05 494.66 L278.38 493.92 L278.70 493.02 L279.03 491.95 L279.35 490.74 L279.68 489.36 L280.01 487.84 L280.33 486.17 L280.66 484.34 L280.98 482.38 L281.31 480.27 L281.64 478.02 L281.96 475.64 L282.29 473.12 L282.62 470.48 L282.94 467.71 L283.27 464.83 L283.59 461.82 L283.92 458.71 L284.25 455.49 L284.57 452.16 L284.90 448.74 L285.22 445.23 L285.55 441.63 L285.88 437.95 L286.20 434.19 L286.53 430.37 L286.86 426.47 L287.18 422.52 L287.51 418.52 L287.83 414.47 L288.16 410.38 L288.49 406.25 L288.81 402.09 L289.14 397.92 L289.47 393.72 L289.79 389.51 L290.12 385.30 L290.44 381.10 L290.77 376.90 L291.10 372.71 L291.42 368.55 L291.75 364.41 L292.07 360.31 L292.40 356.24 L292.73 352.23 L293.05 348.26 L293.38 344.35 L293.71 340.50" stroke-dashoffset="17.39"/>
<path d="M293.71 340.50 L294.03 336.75 L294.35 333.06 L294.68 329.46 L295.00 325.94 L295.33 322.51 L295.65 319.18 L295.97 315.94 L296.30 312.81 L296.62 309.79 L296.95 306.88 L297.27 304.08 L297.59 301.41 L297.92 298.86 L298.24 296.44 L298.57 294.15 L298.89 292.00 L299.21 289.99 L299.54 288.12 L299.86 286.39 L300.19 284.81 L300.51 283.38 L300.83 282.11 L301.16 280.98 L301.48 280.01 L301.81 279.20 L302.13 278.54 L302.45 278.04 L302.78 277.70 L303.10 277.52 L303.43 277.51 L303.75 277.66 L304.07 277.99 L304.40 278.50 L304.72 279.18 L305.05 280.03 L305.37 281.05 L305.69 282.23 L306.02 283.58 L306.34 285.09 L306.67 286.75 L306.99 288.56 L307.31 290.51 L307.64 292.61 L307.96 294.84 L308.29 297.20 L308.61 299.67 L308.93 302.26 L309.26 304.96 L309.58 307.76 L309.91 310.64 L310.23 313.61 L310.55 316.66 L310.88 319.77 L311.20 322.94 L311.53 326.15 L311.85 329.41 L312.17 332.69 L312.50 336.00" stroke-dashoffset="17.39"/>
<path d="M312.50 336.00 L312.82 339.31 L313.14 342.62 L313.47 345.93 L313.79 349.21 L314.11 352.48 L314.44 355.71 L314.76 358.89 L315.08 362.02 L315.41 365.10 L315.73 368.10 L316.05 371.02 L316.38 373.86 L316.70 376.60 L317.02 379.24 L317.35 381.78 L317.67 384.19 L317.99 386.48 L318.32 388.65 L318.64 390.67 L318.96 392.56 L319.28 394.30 L319.61 395.89 L319.93 397.32 L320.25 398.59 L320.58 399.70 L320.90 400.65 L321.22 401.42 L321.55 402.02 L321.87 402.45 L322.19 402.71 L322.52 402.79 L322.84 402.65 L323.16 402.27 L323.49 401.63 L323.81 400.74 L324.13 399.61 L324.46 398.24 L324.78 396.62 L325.10 394.76 L325.43 392.66 L325.75 390.34 L326.07 387.78 L326.39 385.00 L326.72 382.01 L327.04 378.80 L327.36 375.39 L327.69 371.78 L328.01 367.97 L328.33 363.98 L328.66 359.81 L328.98 355.47 L329.30 350.96 L329.63 346.30 L329.95 341.50" stroke-dashoffset="17.39"/>
<path d="M329.95 341.50 L330.28 336.51 L330.60 331.39 L330.93 326.15 L331.25 320.81 L331.58 315.36 L331.91 309.82 L332.23 304.20 L332.56 298.52 L332.89 292.78 L333.21 286.99 L333.54 281.16 L333.86 275.31 L334.19 269.45 L334.52 263.59 L334.84 257.73 L335.17 251.90 L335.50 246.09 L335.82 240.33 L336.15 234.62 L336.48 228.98 L336.80 223.41 L337.13 217.92 L337.45 212.53 L337.78 207.25 L338.11 202.08 L338.43 197.04 L338.76 192.14 L339.09 187.38 L339.41 182.77 L339.74 178.33 L340.06 174.06 L340.39 169.96 L340.72 166.06 L341.04 162.34 L341.37 158.83 L341.70 155.53 L342.02 152.44 L342.35 149.58 L342.67 146.93 L343.00 144.52 L343.33 142.35 L343.65 140.41 L343.98 138.72 L344.31 137.27 L344.63 136.08 L344.96 135.13 L345.29 134.44 L345.61 134.00 L345.94 133.82 L346.26 133.90 L346.59 134.25 L346.92 134.87 L347.24 135.76 L347.57 136.92 L347.90 138.34 L348.22 140.03 L348.55 141.97 L348.87 144.18 L349.20 146.63 L349.53 149.33 L349.85 152.26 L350.18 155.44 L350.51 158.84 L350.83 162.46 L351.16 166.29 L351.48 170.33 L351.81 174.57 L352.14 179.00 L352.46 183.61 L352.79 188.38 L353.12 193.32 L353.44 198.41 L353.77 203.64 L354.10 209.00 L354.42 214.48 L354.75 220.06 L355.07 225.74 L355.40 231.51 L355.73 237.35 L356.05 243.25 L356.38 249.20 L356.71 255.19 L357.03 261.20 L357.36 267.23 L357.68 273.25 L358.01 279.26 L358.34 285.25 L358.66 291.20 L358.99 297.11 L359.32 302.95 L359.64 308.72 L359.97 314.41 L360.29 320.00" stroke-dashoffset="17.39"/>
<path d="M360.29 320.00 L360.62 325.45 L360.94 330.78 L361.27 335.98 L361.59 341.04 L361.91 345.96 L362.24 350.72 L362.56 355.31 L362.89 359.73 L363.21 363.96 L363.54 367.99 L363.86 371.83 L364.18 375.45 L364.51 378.86 L364.83 382.04 L365.16 385.00 L365.48 387.72 L365.80 390.19 L366.13 392.42 L366.45 394.40 L366.78 396.12 L367.10 397.59 L367.42 398.79 L367.75 399.73 L368.07 400.40 L368.40 400.81 L368.72 400.95 L369.04 400.87 L369.37 400.64 L369.69 400.24 L370.02 399.69 L370.34 398.97 L370.66 398.11 L370.99 397.09 L371.31 395.92 L371.64 394.61 L371.96 393.15 L372.28 391.55 L372.61 389.82 L372.93 387.95 L373.26 385.96 L373.58 383.85 L373.90 381.62 L374.23 379.28 L374.55 376.84 L374.88 374.30 L375.20 371.67 L375.52 368.95 L375.85 366.16 L376.17 363.30 L376.50 360.38 L376.82 357.40 L377.15 354.37 L377.47 351.30 L377.79 348.20 L378.12 345.08 L378.44 341.94 L378.77 338.80" stroke-dashoffset="17.39"/>
<path d="M378.77 338.80 L379.09 335.63 L379.42 332.46 L379.75 329.32 L380.07 326.20 L380.40 323.11 L380.73 320.06 L381.05 317.07 L381.38 314.13 L381.71 311.26 L382.04 308.46 L382.36 305.75 L382.69 303.12 L383.02 300.58 L383.34 298.15 L383.67 295.83 L384.00 293.61 L384.33 291.52 L384.65 289.56 L384.98 287.72 L385.31 286.02 L385.63 284.46 L385.96 283.04 L386.29 281.77 L386.62 280.66 L386.94 279.69 L387.27 278.88 L387.60 278.23 L387.92 277.75 L388.25 277.42 L388.58 277.25 L388.90 277.25 L389.23 277.41 L389.56 277.74 L389.89 278.23 L390.21 278.89 L390.54 279.70 L390.87 280.68 L391.19 281.82 L391.52 283.11 L391.85 284.56 L392.18 286.17 L392.50 287.92 L392.83 289.82 L393.16 291.87 L393.48 294.07 L393.81 296.40 L394.14 298.87 L394.46 301.47 L394.79 304.19 L395.12 307.04 L395.45 310.02 L395.77 313.10 L396.10 316.30" stroke-dashoffset="17.39"/>
<path d="M396.10 316.30 L396.43 319.60 L396.75 323.00 L397.08 326.50 L397.41 330.08 L397.73 333.76 L398.06 337.51 L398.39 341.33 L398.71 345.22 L399.04 349.18 L399.37 353.19 L399.70 357.25 L400.02 361.35 L400.35 365.49 L400.68 369.67 L401.00 373.86 L401.33 378.08 L401.66 382.31 L401.98 386.55 L402.31 390.78 L402.64 395.01 L402.96 399.23 L403.29 403.42 L403.62 407.59 L403.94 411.73 L404.27 415.83 L404.60 419.89 L404.92 423.90 L405.25 427.84 L405.58 431.73 L405.90 435.55 L406.23 439.29 L406.56 442.96 L406.88 446.54 L407.21 450.03 L407.54 453.42 L407.87 456.71 L408.19 459.90 L408.52 462.97 L408.85 465.93 L409.17 468.77 L409.50 471.49 L409.83 474.07 L410.15 476.53 L410.48 478.85 L410.81 481.03 L411.13 483.06 L411.46 484.96 L411.79 486.70 L412.11 488.29 L412.44 489.73 L412.77 491.01 L413.09 492.14 L413.42 493.10 L413.75 493.91 L414.07 494.55 L414.40 495.03 L414.73 495.34 L415.05 495.50 L415.38 495.48 L415.71 495.32 L416.04 495.01 L416.36 494.54 L416.69 493.93 L417.02 493.16 L417.34 492.25 L417.67 491.19 L418.00 489.99 L418.32 488.64 L418.65 487.16 L418.98 485.53 L419.30 483.77 L419.63 481.88 L419.96 479.86 L420.28 477.71 L420.61 475.44 L420.94 473.05 L421.26 470.55 L421.59 467.93 L421.92 465.21 L422.24 462.38 L422.57 459.46 L422.90 456.44 L423.23 453.34 L423.55 450.15 L423.88 446.89 L424.21 443.55 L424.53 440.14 L424.86 436.68 L425.19 433.15 L425.51 429.58 L425.84 425.96 L426.17 422.30 L426.49 418.61 L426.82 414.89 L427.15 411.15 L427.47 407.40" stroke-dashoffset="17.39"/>
<path d="M427.47 407.40 L427.80 403.64 L428.13 399.88 L428.45 396.13 L428.78 392.38 L429.11 388.65 L429.43 384.94 L429.76 381.26 L430.08 377.61 L430.41 374.01 L430.74 370.44 L431.06 366.93 L431.39 363.47 L431.72 360.08 L432.04 356.76 L432.37 353.50 L432.69 350.33 L433.02 347.24 L433.35 344.24 L433.67 341.33 L434.00 338.52 L434.33 335.81 L434.65 333.21 L434.98 330.72 L435.30 328.34 L435.63 326.09 L435.96 323.95 L436.28 321.95 L436.61 320.07 L436.94 318.32 L437.26 316.71 L437.59 315.24 L437.92 313.91 L438.24 312.72 L438.57 311.67 L438.89 310.77 L439.22 310.02 L439.55 309.42 L439.87 308.96 L440.20 308.66 L440.53 308.51 L440.85 308.51 L441.18 308.65 L441.50 308.95 L441.83 309.38 L442.16 309.97 L442.48 310.70 L442.81 311.57 L443.14 312.59 L443.46 313.75 L443.79 315.05 L444.11 316.48 L444.44 318.05 L444.77 319.75 L445.09 321.58 L445.42 323.54 L445.75 325.63 L446.07 327.83 L446.40 330.15 L446.73 332.59 L447.05 335.14 L447.38 337.79 L447.70 340.54 L448.03 343.40 L448.36 346.34 L448.68 349.38 L449.01 352.50 L449.34 355.70 L449.66 358.98 L449.99 362.32 L450.31 365.73 L450.64 369.20 L450.97 372.72 L451.29 376.30 L451.62 379.91 L451.95 383.57 L452.27 387.25 L452.60 390.96 L452.93 394.70 L453.25 398.44 L453.58 402.20" stroke-dashoffset="17.39"/>
<path d="M453.58 402.20 L453.90 405.96 L454.23 409.71 L454.56 413.46 L454.88 417.20 L455.21 420.91 L455.53 424.60 L455.86 428.26 L456.19 431.88 L456.51 435.47 L456.84 439.00 L457.17 442.48 L457.49 445.90 L457.82 449.26 L458.14 452.55 L458.47 455.77 L458.80 458.90 L459.12 461.96 L459.45 464.92 L459.77 467.80 L460.10 470.58 L460.43 473.25 L460.75 475.82 L461.08 478.28 L461.40 480.63 L461.73 482.86 L462.06 484.97 L462.38 486.96 L462.71 488.82 L463.04 490.55 L463.36 492.15 L463.69 493.62 L464.01 494.95 L464.34 496.14 L464.67 497.19 L464.99 498.09 L465.32 498.86 L465.64 499.48 L465.97 499.95 L466.30 500.28 L466.62 500.46 L466.95 500.50 L467.28 500.37 L467.60 500.10 L467.93 499.66 L468.25 499.07 L468.58 498.33 L468.91 497.43 L469.23 496.38 L469.56 495.18 L469.88 493.83 L470.21 492.34 L470.54 490.70 L470.86 488.92 L471.19 487.01 L471.52 484.95 L471.84 482.77 L472.17 480.46 L472.49 478.02 L472.82 475.47 L473.15 472.79 L473.47 470.01 L473.80 467.12 L474.12 464.12 L474.45 461.03 L474.78 457.85 L475.10 454.58 L475.43 451.22 L475.76 447.79 L476.08 444.29 L476.41 440.73 L476.73 437.10 L477.06 433.42 L477.39 429.70 L477.71 425.93 L478.04 422.12 L478.36 418.29 L478.69 414.44 L479.02 410.57 L479.34 406.69 L479.67 402.80" stroke-dashoffset="17.39"/>
<path d="M479.67 402.80 L479.99 398.92 L480.32 395.05 L480.65 391.19 L480.97 387.36 L481.30 383.55 L481.62 379.78 L481.95 376.05 L482.28 372.36 L482.60 368.73 L482.93 365.15 L483.25 361.64 L483.58 358.20 L483.91 354.83 L484.23 351.54 L484.56 348.34 L484.88 345.24 L485.21 342.22 L485.53 339.31 L485.86 336.51 L486.19 333.81 L486.51 331.23 L486.84 328.77 L487.16 326.44 L487.49 324.23 L487.82 322.15 L488.14 320.20 L488.47 318.40 L488.79 316.73 L489.12 315.20 L489.45 313.83 L489.77 312.59 L490.10 311.51 L490.42 310.58 L490.75 309.80 L491.08 309.18 L491.40 308.71 L491.73 308.40 L492.05 308.25 L492.38 308.25 L492.70 308.40 L493.03 308.70 L493.36 309.14 L493.68 309.74 L494.01 310.48 L494.33 311.37 L494.66 312.40 L494.99 313.58 L495.31 314.89 L495.64 316.35 L495.96 317.94 L496.29 319.66 L496.62 321.52 L496.94 323.51 L497.27 325.62 L497.59 327.85 L497.92 330.20 L498.24 332.67 L498.57 335.25 L498.90 337.93 L499.22 340.72 L499.55 343.61 L499.87 346.59 L500.20 349.67 L500.53 352.82 L500.85 356.06 L501.18 359.37 L501.50 362.75 L501.83 366.20 L502.16 369.71 L502.48 373.27 L502.81 376.87 L503.13 380.52 L503.46 384.21 L503.79 387.93 L504.11 391.68 L504.44 395.44 L504.76 399.22 L505.09 403.01 L505.41 406.80" stroke-dashoffset="17.39"/>
<path d="M505.41 406.80 L505.74 410.56 L506.06 414.31 L506.39 418.05 L506.71 421.76 L507.03 425.45 L507.36 429.11 L507.68 432.73 L508.00 436.31 L508.33 439.84 L508.65 443.31 L508.98 446.72 L509.30 450.07 L509.62 453.35 L509.95 456.56 L510.27 459.69 L510.59 462.73 L510.92 465.68 L511.24 468.54 L511.57 471.30 L511.89 473.96 L512.21 476.51 L512.54 478.95 L512.86 481.28 L513.18 483.49 L513.51 485.59 L513.83 487.55 L514.16 489.39 L514.48 491.10 L514.80 492.68 L515.13 494.12 L515.45 495.43 L515.77 496.59 L516.10 497.62 L516.42 498.50 L516.74 499.24 L517.07 499.83 L517.39 500.28 L517.72 500.59 L518.04 500.74 L518.36 500.75 L518.69 500.61 L519.01 500.33 L519.33 499.90 L519.66 499.33 L519.98 498.62 L520.31 497.76 L520.63 496.77 L520.95 495.63 L521.28 494.36 L521.60 492.95 L521.92 491.41 L522.25 489.74 L522.57 487.94 L522.90 486.01 L523.22 483.96 L523.54 481.79 L523.87 479.51 L524.19 477.11 L524.51 474.60 L524.84 471.98 L525.16 469.27 L525.49 466.45 L525.81 463.55 L526.13 460.55 L526.46 457.47 L526.78 454.31 L527.10 451.08 L527.43 447.77 L527.75 444.40 L528.07 440.97 L528.40 437.48 L528.72 433.95 L529.05 430.37 L529.37 426.75 L529.69 423.10 L530.02 419.42 L530.34 415.72 L530.66 412.00 L530.99 408.27 L531.31 404.54 L531.64 400.80" stroke-dashoffset="17.39"/>
<path d="M531.64 400.80 L531.96 397.05 L532.29 393.32 L532.61 389.60 L532.94 385.90 L533.26 382.23 L533.59 378.60 L533.91 375.01 L534.24 371.46 L534.56 367.96 L534.89 364.52 L535.21 361.14 L535.54 357.83 L535.86 354.58 L536.19 351.42 L536.52 348.33 L536.84 345.33 L537.17 342.42 L537.49 339.61 L537.82 336.89 L538.14 334.28 L538.47 331.78 L538.79 329.38 L539.12 327.10 L539.44 324.94 L539.77 322.90 L540.09 320.99 L540.42 319.20 L540.74 317.55 L541.07 316.02 L541.39 314.63 L541.72 313.38 L542.05 312.27 L542.37 311.30 L542.70 310.47 L543.02 309.78 L543.35 309.24 L543.67 308.85 L544.00 308.60 L544.32 308.49 L544.65 308.54 L544.97 308.73 L545.30 309.08 L545.62 309.58 L545.95 310.24 L546.27 311.04 L546.60 311.98 L546.93 313.08 L547.25 314.32 L547.58 315.70 L547.90 317.23 L548.23 318.89 L548.55 320.69 L548.88 322.62 L549.20 324.68 L549.53 326.87 L549.85 329.18 L550.18 331.61 L550.50 334.16 L550.83 336.81 L551.15 339.58 L551.48 342.45 L551.80 345.41 L552.13 348.47 L552.46 351.62 L552.78 354.86 L553.11 358.17 L553.43 361.55 L553.76 365.01 L554.08 368.52 L554.41 372.10 L554.73 375.72 L555.06 379.39 L555.38 383.10 L555.71 386.85 L556.03 390.62 L556.36 394.42 L556.68 398.23 L557.01 402.05 L557.33 405.88 L557.66 409.70" stroke-dashoffset="17.39"/>
<path d="M557.66 409.70 L557.99 413.54 L558.31 417.36 L558.64 421.16 L558.97 424.93 L559.30 428.68 L559.62 432.38 L559.95 436.04 L560.28 439.65 L560.60 443.20 L560.93 446.69 L561.26 450.12 L561.58 453.47 L561.91 456.74 L562.24 459.93 L562.57 463.03 L562.89 466.04 L563.22 468.95 L563.55 471.76 L563.87 474.46 L564.20 477.04 L564.53 479.51 L564.85 481.87 L565.18 484.09 L565.51 486.19 L565.84 488.16 L566.16 490.00 L566.49 491.70 L566.82 493.26 L567.14 494.68 L567.47 495.95 L567.80 497.08 L568.13 498.06 L568.45 498.89 L568.78 499.57 L569.11 500.10 L569.43 500.47 L569.76 500.70 L570.09 500.76 L570.41 500.68 L570.74 500.45 L571.07 500.07 L571.40 499.55 L571.72 498.87 L572.05 498.06 L572.38 497.09 L572.70 495.99 L573.03 494.75 L573.36 493.36 L573.68 491.84 L574.01 490.19 L574.34 488.40 L574.67 486.49 L574.99 484.44 L575.32 482.28 L575.65 480.00 L575.97 477.59 L576.30 475.08 L576.63 472.46 L576.96 469.73 L577.28 466.91 L577.61 463.99 L577.94 460.97 L578.26 457.87 L578.59 454.69 L578.92 451.43 L579.24 448.10 L579.57 444.70 L579.90 441.24 L580.23 437.72 L580.55 434.15 L580.88 430.54 L581.21 426.88 L581.53 423.19 L581.86 419.48 L582.19 415.74 L582.51 411.98 L582.84 408.21 L583.17 404.44 L583.50 400.67 L583.82 396.90" stroke-dashoffset="17.39"/>
<path d="M583.82 396.90 L584.15 393.16 L584.48 389.43 L584.80 385.72 L585.13 382.05 L585.45 378.41 L585.78 374.81 L586.11 371.26 L586.43 367.75 L586.76 364.31 L587.08 360.92 L587.41 357.60 L587.74 354.36 L588.06 351.19 L588.39 348.10 L588.71 345.10 L589.04 342.19 L589.37 339.38 L589.69 336.66 L590.02 334.06 L590.35 331.55 L590.67 329.16 L591.00 326.89 L591.32 324.74 L591.65 322.71 L591.98 320.80 L592.30 319.02 L592.63 317.37 L592.95 315.86 L593.28 314.48 L593.61 313.25 L593.93 312.15 L594.26 311.19 L594.58 310.38 L594.91 309.71 L595.24 309.18 L595.56 308.80 L595.89 308.57 L596.22 308.49 L596.54 308.56 L596.87 308.79 L597.19 309.18 L597.52 309.73 L597.85 310.44 L598.17 311.31 L598.50 312.33 L598.82 313.51 L599.15 314.85 L599.48 316.33 L599.80 317.96 L600.13 319.73 L600.45 321.65 L600.78 323.71 L601.11 325.90 L601.43 328.22 L601.76 330.68 L602.09 333.25 L602.41 335.95 L602.74 338.76 L603.06 341.68 L603.39 344.71 L603.72 347.84 L604.04 351.06 L604.37 354.37 L604.69 357.77 L605.02 361.24 L605.35 364.79 L605.67 368.40 L606.00 372.08 L606.32 375.81 L606.65 379.59 L606.98 383.41 L607.30 387.26 L607.63 391.15 L607.96 395.05 L608.28 398.98 L608.61 402.91 L608.93 406.85 L609.26 410.78 L609.59 414.70" stroke-dashoffset="17.39"/>
<path d="M609.59 414.70 L609.91 418.60 L610.24 422.47 L610.56 426.31 L610.89 430.12 L611.21 433.88 L611.54 437.60 L611.86 441.26 L612.19 444.86 L612.51 448.39 L612.84 451.85 L613.17 455.23 L613.49 458.53 L613.82 461.74 L614.14 464.85 L614.47 467.86 L614.79 470.76 L615.12 473.56 L615.44 476.24 L615.77 478.80 L616.09 481.23 L616.42 483.54 L616.75 485.72 L617.07 487.76 L617.40 489.66 L617.72 491.42 L618.05 493.04 L618.37 494.51 L618.70 495.82 L619.02 496.99 L619.35 498.00 L619.67 498.86 L620.00 499.56 L620.32 500.10 L620.65 500.48 L620.98 500.70 L621.30 500.76 L621.63 500.67 L621.95 500.43 L622.28 500.05 L622.60 499.52 L622.93 498.85 L623.25 498.03 L623.58 497.07 L623.90 495.97 L624.23 494.73 L624.56 493.35 L624.88 491.83 L625.21 490.19 L625.53 488.41 L625.86 486.51 L626.18 484.47 L626.51 482.32 L626.83 480.05 L627.16 477.67 L627.48 475.17 L627.81 472.56 L628.14 469.86 L628.46 467.05 L628.79 464.15 L629.11 461.15 L629.44 458.07 L629.76 454.91 L630.09 451.67 L630.41 448.36 L630.74 444.98 L631.06 441.54 L631.39 438.05 L631.71 434.50 L632.04 430.91 L632.37 427.28 L632.69 423.61 L633.02 419.92 L633.34 416.20" stroke-dashoffset="17.39"/>
<path d="M633.34 416.20 L633.67 412.48 L633.99 408.74 L634.31 405.00 L634.64 401.26 L634.96 397.52 L635.29 393.79 L635.61 390.08 L635.94 386.39 L636.26 382.73 L636.59 379.10 L636.91 375.52 L637.23 371.97 L637.56 368.48 L637.88 365.03 L638.21 361.65 L638.53 358.34 L638.86 355.09 L639.18 351.92 L639.50 348.83 L639.83 345.83 L640.15 342.91 L640.48 340.09 L640.80 337.36 L641.13 334.74 L641.45 332.22 L641.78 329.82 L642.10 327.52 L642.42 325.35 L642.75 323.29 L643.07 321.36 L643.40 319.55 L643.72 317.87 L644.05 316.32 L644.37 314.91 L644.69 313.63 L645.02 312.50 L645.34 311.50 L645.67 310.64 L645.99 309.92 L646.32 309.35 L646.64 308.92 L646.96 308.64 L647.29 308.50 L647.61 308.51 L647.94 308.67 L648.26 308.98 L648.59 309.45 L648.91 310.06 L649.24 310.82 L649.56 311.72 L649.88 312.78 L650.21 313.97 L650.53 315.31 L650.86 316.80 L651.18 318.41 L651.51 320.17 L651.83 322.06 L652.15 324.07 L652.48 326.22 L652.80 328.48 L653.13 330.87 L653.45 333.37 L653.78 335.99 L654.10 338.71 L654.42 341.53 L654.75 344.46 L655.07 347.48 L655.40 350.59 L655.72 353.78 L656.05 357.05 L656.37 360.40 L656.70 363.82 L657.02 367.30 L657.34 370.84 L657.67 374.44 L657.99 378.08 L658.32 381.76 L658.64 385.48 L658.97 389.23 L659.29 393.00" stroke-dashoffset="17.39"/>
<path d="M659.29 393.00 L659.61 396.79 L659.94 400.60 L660.26 404.41 L660.59 408.22 L660.91 412.02 L661.24 415.81 L661.56 419.59 L661.89 423.34 L662.21 427.06 L662.54 430.75 L662.86 434.39 L663.18 437.99 L663.51 441.54 L663.83 445.02 L664.16 448.44 L664.48 451.80 L664.81 455.08 L665.13 458.27 L665.46 461.39 L665.78 464.41 L666.10 467.34 L666.43 470.17 L666.75 472.90 L667.08 475.52 L667.40 478.03 L667.73 480.42 L668.05 482.69 L668.38 484.84 L668.70 486.86 L669.03 488.76 L669.35 490.52 L669.67 492.14 L670.00 493.63 L670.32 494.97 L670.65 496.18 L670.97 497.23 L671.30 498.15 L671.62 498.91 L671.95 499.53 L672.27 499.99 L672.60 500.31 L672.92 500.47 L673.24 500.49 L673.57 500.35 L673.89 500.06 L674.22 499.62 L674.54 499.03 L674.87 498.29 L675.19 497.41 L675.52 496.38 L675.84 495.20 L676.16 493.88 L676.49 492.42 L676.81 490.82 L677.14 489.08 L677.46 487.21 L677.79 485.21 L678.11 483.09 L678.44 480.84 L678.76 478.46 L679.09 475.98 L679.41 473.38 L679.73 470.67 L680.06 467.86 L680.38 464.94 L680.71 461.94 L681.03 458.84 L681.36 455.65 L681.68 452.39 L682.01 449.05 L682.33 445.64 L682.65 442.16 L682.98 438.63 L683.30 435.04 L683.63 431.40 L683.95 427.72 L684.28 424.01 L684.60 420.26 L684.93 416.49 L685.25 412.70" stroke-dashoffset="17.39"/>
<path d="M685.25 412.70 L685.58 408.88 L685.90 405.05 L686.23 401.23 L686.55 397.41 L686.88 393.59 L687.21 389.80 L687.53 386.03 L687.86 382.29 L688.18 378.59 L688.51 374.92 L688.84 371.30 L689.16 367.74 L689.49 364.23 L689.81 360.79 L690.14 357.42 L690.47 354.12 L690.79 350.90 L691.12 347.77 L691.44 344.73 L691.77 341.78 L692.09 338.93 L692.42 336.19 L692.75 333.56 L693.07 331.03 L693.40 328.63 L693.72 326.34 L694.05 324.18 L694.38 322.15 L694.70 320.25 L695.03 318.48 L695.35 316.85 L695.68 315.36 L696.01 314.01 L696.33 312.80 L696.66 311.74 L696.98 310.83 L697.31 310.06 L697.63 309.45 L697.96 308.98 L698.29 308.67 L698.61 308.51 L698.94 308.51 L699.26 308.68 L699.59 309.03 L699.92 309.56 L700.24 310.26 L700.57 311.14 L700.89 312.20 L701.22 313.42 L701.55 314.82 L701.87 316.38 L702.20 318.11 L702.52 320.00 L702.85 322.04 L703.17 324.24 L703.50 326.58 L703.83 329.07 L704.15 331.70 L704.48 334.46 L704.80 337.35 L705.13 340.37 L705.46 343.50 L705.78 346.74 L706.11 350.09 L706.43 353.54 L706.76 357.07 L707.09 360.69 L707.41 364.39 L707.74 368.16 L708.06 372.00 L708.39 375.89 L708.71 379.82 L709.04 383.80 L709.37 387.81 L709.69 391.85 L710.02 395.90" stroke-dashoffset="17.39"/>
<path d="M710.02 395.90 L710.35 399.97 L710.67 404.05 L711.00 408.12 L711.33 412.17 L711.65 416.20 L711.98 420.20 L712.31 424.16 L712.63 428.08 L712.96 431.94 L713.29 435.75 L713.61 439.48 L713.94 443.14 L714.27 446.71 L714.59 450.20 L714.92 453.59 L715.25 456.87 L715.57 460.05 L715.90 463.11 L716.23 466.04 L716.55 468.85 L716.88 471.53 L717.21 474.07 L717.53 476.46 L717.86 478.71 L718.19 480.80 L718.52 482.74 L718.84 484.52 L719.17 486.13 L719.50 487.58 L719.82 488.86 L720.15 489.96 L720.48 490.89 L720.80 491.65 L721.13 492.22 L721.46 492.62 L721.78 492.84 L722.11 492.88 L722.44 492.78 L722.76 492.56 L723.09 492.21 L723.42 491.73 L723.74 491.14 L724.07 490.42 L724.40 489.57 L724.72 488.61 L725.05 487.53 L725.38 486.32 L725.70 485.00 L726.03 483.57 L726.36 482.01 L726.68 480.35 L727.01 478.57 L727.34 476.69 L727.67 474.70 L727.99 472.60 L728.32 470.40 L728.65 468.11 L728.97 465.71 L729.30 463.23 L729.63 460.65 L729.95 457.98 L730.28 455.22 L730.61 452.39 L730.93 449.47 L731.26 446.48 L731.59 443.42 L731.91 440.29 L732.24 437.09 L732.57 433.83 L732.89 430.51 L733.22 427.14 L733.55 423.72 L733.87 420.25 L734.20 416.74 L734.53 413.19 L734.85 409.61 L735.18 406.00 L735.51 402.36 L735.83 398.70 L736.16 395.02 L736.49 391.32 L736.82 387.62 L737.14 383.91 L737.47 380.20 L737.80 376.50 L738.12 372.80 L738.45 369.11 L738.78 365.44 L739.10 361.79 L739.43 358.16 L739.76 354.56 L740.08 350.99 L740.41 347.46 L740.74 343.97 L741.06 340.53 L741.39 337.13 L741.72 333.78 L742.04 330.50 L742.37 327.27 L742.70 324.10" stroke-dashoffset="17.39"/>
<path d="M742.70 324.10 L743.02 321.05 L743.34 318.06 L743.66 315.15 L743.98 312.31 L744.31 309.55 L744.63 306.87 L744.95 304.28 L745.27 301.77 L745.59 299.35 L745.92 297.03 L746.24 294.80 L746.56 292.66 L746.88 290.63 L747.20 288.70 L747.53 286.87 L747.85 285.15 L748.17 283.54 L748.49 282.03 L748.81 280.64 L749.13 279.36 L749.46 278.20 L749.78 277.15 L750.10 276.22 L750.42 275.40 L750.74 274.71 L751.07 274.13 L751.39 273.67 L751.71 273.34 L752.03 273.13 L752.35 273.03 L752.67 273.08 L753.00 273.29 L753.32 273.68 L753.64 274.25 L753.96 274.98 L754.28 275.89 L754.61 276.96 L754.93 278.19 L755.25 279.58 L755.57 281.12 L755.89 282.82 L756.22 284.66 L756.54 286.63 L756.86 288.74 L757.18 290.98 L757.50 293.33 L757.82 295.79 L758.15 298.36 L758.47 301.02 L758.79 303.77 L759.11 306.60 L759.43 309.49 L759.76 312.45 L760.08 315.45 L760.40 318.50 L760.72 321.58 L761.04 324.68 L761.36 327.79 L761.69 330.91 L762.01 334.01 L762.33 337.10" stroke-dashoffset="17.39"/>
<path d="M762.33 337.10 L762.66 340.21 L762.98 343.28 L763.31 346.30 L763.64 349.26 L763.96 352.15 L764.29 354.97 L764.62 357.70 L764.94 360.34 L765.27 362.87 L765.60 365.29 L765.92 367.59 L766.25 369.77 L766.58 371.81 L766.90 373.70 L767.23 375.45 L767.56 377.05 L767.88 378.49 L768.21 379.77 L768.54 380.88 L768.86 381.82 L769.19 382.59 L769.52 383.17 L769.84 383.59 L770.17 383.82 L770.50 383.87 L770.82 383.69 L771.15 383.25 L771.48 382.57 L771.80 381.62 L772.13 380.43 L772.46 378.99 L772.78 377.31 L773.11 375.39 L773.44 373.23 L773.76 370.83 L774.09 368.21 L774.42 365.37 L774.74 362.31 L775.07 359.04 L775.40 355.57 L775.72 351.90 L776.05 348.05 L776.38 344.02 L776.70 339.81 L777.03 335.44 L777.36 330.92 L777.68 326.26 L778.01 321.46 L778.34 316.54 L778.66 311.50" stroke-dashoffset="17.39"/>
<path d="M778.66 311.50 L778.99 306.39 L779.31 301.20 L779.64 295.92 L779.96 290.57 L780.29 285.17 L780.61 279.71 L780.94 274.23 L781.26 268.71 L781.59 263.19 L781.91 257.66 L782.24 252.14 L782.56 246.65 L782.88 241.18 L783.21 235.76 L783.53 230.40 L783.86 225.10 L784.18 219.88 L784.51 214.74 L784.83 209.71 L785.16 204.78 L785.48 199.98 L785.81 195.30 L786.13 190.76 L786.46 186.37 L786.78 182.14 L787.10 178.07 L787.43 174.18 L787.75 170.47 L788.08 166.95 L788.40 163.63 L788.73 160.52 L789.05 157.61 L789.38 154.92 L789.70 152.46 L790.03 150.22 L790.35 148.21 L790.67 146.44 L791.00 144.91 L791.32 143.63 L791.65 142.59 L791.97 141.79 L792.30 141.25 L792.62 140.96 L792.95 140.93 L793.27 141.29 L793.60 142.08 L793.92 143.29 L794.25 144.92 L794.57 146.97 L794.89 149.43 L795.22 152.30 L795.54 155.57 L795.87 159.24 L796.19 163.28 L796.52 167.70 L796.84 172.49 L797.17 177.63 L797.49 183.11 L797.82 188.91 L798.14 195.03 L798.47 201.45 L798.79 208.15 L799.11 215.12 L799.44 222.34 L799.56 225.01" stroke-dashoffset="17.39"/>
<path d="M799.76 229.80 L800.05 236.44 L800.33 243.23 L800.61 250.15 L800.89 257.21 L801.17 264.37 L801.45 271.64 L801.73 279.00" stroke-dashoffset="17.39"/>
<path d="M801.73 279.00 L801.98 285.63 L802.24 292.32 L802.49 299.04" stroke-dashoffset="17.39"/>
</g>
</g>
<rect x="122" y="2.4" width="686.5" height="511.8" fill="none" stroke="#000" stroke-width="4.40" stroke-linejoin="miter" stroke-linecap="square"/>
<line x1="121.75" y1="514" x2="121.75" y2="520.8" stroke="#000" stroke-width="1.9"/>
<line x1="285.31" y1="514" x2="285.31" y2="520.8" stroke="#000" stroke-width="1.9"/>
<line x1="448.87" y1="514" x2="448.87" y2="520.8" stroke="#000" stroke-width="1.9"/>
<line x1="612.43" y1="514" x2="612.43" y2="520.8" stroke="#000" stroke-width="1.9"/>
<line x1="775.99" y1="514" x2="775.99" y2="520.8" stroke="#000" stroke-width="1.9"/>
<line x1="115" y1="54.75" x2="122" y2="54.75" stroke="#000" stroke-width="1.9"/>
<line x1="115" y1="186.09" x2="122" y2="186.09" stroke="#000" stroke-width="1.9"/>
<line x1="115" y1="317.42" x2="122" y2="317.42" stroke="#000" stroke-width="1.9"/>
<line x1="115" y1="448.75" x2="122" y2="448.75" stroke="#000" stroke-width="1.9"/>
<text transform="translate(122.25,552.5) scale(0.92,1)" class="b" font-size="37.8" text-anchor="middle">0</text>
<text transform="translate(285.81,552.5) scale(0.92,1)" class="b" font-size="37.8" text-anchor="middle">10</text>
<text transform="translate(449.37,552.5) scale(0.92,1)" class="b" font-size="37.8" text-anchor="middle">20</text>
<text transform="translate(612.93,552.5) scale(0.92,1)" class="b" font-size="37.8" text-anchor="middle">30</text>
<text transform="translate(776.49,552.5) scale(0.92,1)" class="b" font-size="37.8" text-anchor="middle">40</text>
<text transform="translate(109.2,67.75) scale(0.94,1)" class="b" font-size="37.8" text-anchor="end">1.0</text>
<text transform="translate(109.2,199.09) scale(0.94,1)" class="b" font-size="37.8" text-anchor="end">0.5</text>
<text transform="translate(109.2,330.42) scale(0.94,1)" class="b" font-size="37.8" text-anchor="end">0.0</text>
<text transform="translate(109.2,461.75) scale(0.94,1)" class="b" font-size="37.8" text-anchor="end">0.5</text>
<rect x="38.9" y="452.15" width="22.7" height="1.7"/>
<text transform="translate(455.8,598.5) scale(1.06,1)" class="b" font-size="49" font-style="italic">t</text>
<text transform="translate(19.5,270) rotate(-90)" class="b" font-size="49.5" font-style="italic">μ</text>
<rect x="416" y="11.1" width="339.9" height="209.65" fill="#fff" stroke="none"/>
<g clip-path="url(#iax)" fill="none" stroke-width="4.0" stroke-linecap="square" stroke-linejoin="round">
<path d="M431.10 210.80 C432.97 210.67 438.37 210.58 442.30 210.00 C446.23 209.42 449.77 208.23 454.70 207.30 C459.63 206.37 466.77 204.62 471.90 204.40 C477.03 204.18 480.98 205.35 485.50 206.00 C490.02 206.65 495.10 208.00 499.00 208.30 C502.90 208.60 505.60 208.58 508.90 207.80 C512.20 207.02 515.72 205.22 518.80 203.60 C521.88 201.98 524.53 200.05 527.40 198.10 C530.27 196.15 533.12 193.45 536.00 191.90 C538.88 190.35 542.02 189.62 544.70 188.80 C547.38 187.98 549.85 187.92 552.10 187.00 C554.35 186.08 556.35 184.95 558.20 183.30 C560.05 181.65 561.75 179.37 563.20 177.10 C564.65 174.83 565.72 172.63 566.90 169.70 C568.08 166.77 569.00 164.75 570.30 159.50 C571.60 154.25 573.20 145.12 574.70 138.20 C576.20 131.28 577.77 124.73 579.30 118.00 C580.83 111.27 582.52 103.92 583.90 97.80 C585.28 91.68 586.37 86.20 587.60 81.30 C588.83 76.40 590.23 71.72 591.30 68.40 C592.37 65.08 593.08 62.78 594.00 61.40 C594.92 60.02 595.88 59.70 596.80 60.10 C597.72 60.50 598.82 62.72 599.50 63.80 C600.18 64.88 600.67 66.13 600.90 66.60" stroke="#40498e"/>
<path d="M431.10 210.80 C434.25 210.72 443.18 210.85 450.00 210.30 C456.82 209.75 465.33 207.80 472.00 207.50 C478.67 207.20 483.67 208.33 490.00 208.50 C496.33 208.67 505.00 208.58 510.00 208.50 C515.00 208.42 516.28 208.40 520.00 208.00 C523.72 207.60 528.18 206.72 532.30 206.10 C536.42 205.48 540.58 204.50 544.70 204.30 C548.82 204.10 552.90 205.12 557.00 204.90 C561.10 204.68 565.48 204.35 569.30 203.00 C573.12 201.65 576.82 199.15 579.90 196.80 C582.98 194.45 585.33 191.53 587.80 188.90 C590.27 186.27 592.43 183.98 594.70 181.00 C596.97 178.02 599.30 173.67 601.40 171.00 C603.50 168.33 604.93 166.45 607.30 165.00 C609.67 163.55 613.27 163.05 615.60 162.30 C617.93 161.55 619.40 161.87 621.30 160.50 C623.20 159.13 625.35 156.58 627.00 154.10 C628.65 151.62 629.98 148.65 631.20 145.60 C632.42 142.55 633.05 142.13 634.30 135.80 C635.55 129.47 637.07 117.00 638.70 107.60 C640.33 98.20 642.30 88.80 644.10 79.40 C645.90 70.00 647.87 59.52 649.50 51.20 C651.13 42.88 652.63 34.48 653.90 29.50 C655.17 24.52 656.20 22.82 657.10 21.30 C658.00 19.78 658.47 19.93 659.30 20.40 C660.13 20.87 661.42 22.53 662.10 24.10 C662.78 25.67 663.18 28.85 663.40 29.80" stroke="#357ba3"/>
<path d="M431.10 210.80 C435.92 210.75 450.18 210.53 460.00 210.50 C469.82 210.47 480.00 210.63 490.00 210.60 C500.00 210.57 510.00 210.48 520.00 210.30 C530.00 210.12 541.67 209.87 550.00 209.50 C558.33 209.13 563.38 208.55 570.00 208.10 C576.62 207.65 584.77 207.37 589.70 206.80 C594.63 206.23 596.32 205.35 599.60 204.70 C602.88 204.05 606.12 203.48 609.40 202.90 C612.68 202.32 616.33 201.82 619.30 201.20 C622.27 200.58 624.90 200.10 627.20 199.20 C629.50 198.30 631.13 197.35 633.10 195.80 C635.07 194.25 637.02 192.37 639.00 189.90 C640.98 187.43 643.33 184.65 645.00 181.00 C646.67 177.35 647.52 172.72 649.00 168.00 C650.48 163.28 652.32 157.62 653.90 152.70 C655.48 147.78 656.70 144.20 658.50 138.50 C660.30 132.80 662.95 123.28 664.70 118.50 C666.45 113.72 667.62 111.68 669.00 109.80 C670.38 107.92 671.73 107.13 673.00 107.20 C674.27 107.27 675.58 108.85 676.60 110.20 C677.62 111.55 678.68 114.45 679.10 115.30" stroke="#38aaac"/>
<path d="M431.10 210.80 C432.92 210.77 437.52 210.77 442.00 210.60 C446.48 210.43 453.00 209.93 458.00 209.80 C463.00 209.67 466.67 209.67 472.00 209.80 C477.33 209.93 484.50 210.32 490.00 210.60 C495.50 210.88 500.00 211.33 505.00 211.50 C510.00 211.67 514.17 211.68 520.00 211.60 C525.83 211.52 533.83 211.20 540.00 211.00 C546.17 210.80 552.00 210.60 557.00 210.40 C562.00 210.20 564.55 209.85 570.00 209.80 C575.45 209.75 583.13 210.13 589.70 210.10 C596.27 210.07 602.82 209.93 609.40 209.60 C615.98 209.27 623.67 208.53 629.20 208.10 C634.73 207.67 638.02 207.85 642.60 207.00 C647.18 206.15 651.98 205.20 656.70 203.00 C661.42 200.80 666.17 196.40 670.90 193.80 C675.63 191.20 681.32 189.20 685.10 187.40 C688.88 185.60 691.37 184.93 693.60 183.00 C695.83 181.07 696.50 180.30 698.50 175.80 C700.50 171.30 703.23 164.03 705.60 156.00 C707.97 147.97 710.35 137.98 712.70 127.60 C715.05 117.22 717.58 104.55 719.70 93.70 C721.82 82.85 723.73 70.53 725.40 62.50 C727.07 54.47 728.18 49.37 729.70 45.50 C731.22 41.63 733.08 39.77 734.50 39.30 C735.92 38.83 737.23 40.67 738.20 42.70 C739.17 44.73 739.95 50.03 740.30 51.50" stroke="#79d6ae"/>
</g>
<rect x="416" y="11.1" width="339.9" height="209.65" fill="none" stroke="#000" stroke-width="2" stroke-linecap="square"/>
<line x1="431.10" y1="220.75" x2="431.10" y2="227.6" stroke="#000" stroke-width="1.6"/>
<line x1="543.60" y1="220.75" x2="543.60" y2="227.6" stroke="#000" stroke-width="1.6"/>
<line x1="656.10" y1="220.75" x2="656.10" y2="227.6" stroke="#000" stroke-width="1.6"/>
<line x1="409" y1="210.80" x2="416" y2="210.80" stroke="#000" stroke-width="1.6"/>
<line x1="409" y1="151.23" x2="416" y2="151.23" stroke="#000" stroke-width="1.6"/>
<line x1="409" y1="91.67" x2="416" y2="91.67" stroke="#000" stroke-width="1.6"/>
<line x1="409" y1="32.10" x2="416" y2="32.10" stroke="#000" stroke-width="1.6"/>
<text x="431.10" y="251" font-size="23.8" text-anchor="middle">0</text>
<text x="543.60" y="251" font-size="23.8" text-anchor="middle">5</text>
<text x="656.10" y="251" font-size="23.8" text-anchor="middle">10</text>
<text x="402" y="219.10" font-size="23.8" text-anchor="end">0</text>
<text x="402" y="40.40" font-size="23.8" text-anchor="end">1</text>
<text x="579.3" y="257.6" font-size="33" font-style="italic">t</text>
<g transform="translate(394,135) rotate(-90)"><path d="M0.00 0.00 L10.20 -20.70 L20.40 0.00 Z M8.86 -15.95 L15.78 -1.90 L1.94 -1.90 Z" fill="#000" fill-rule="evenodd"/></g>
<text transform="translate(394,109.5) rotate(-90)" font-size="27" font-style="italic">μ</text>
<rect x="428" y="23.5" width="96" height="142.1" rx="4.5" ry="4.5" fill="#fff" fill-opacity="0.8" stroke="#d6d6d6" stroke-width="1.8"/>
<line x1="435.8" y1="41.60" x2="464.2" y2="41.60" stroke="#40498e" stroke-width="3.8"/>
<text x="481.2" y="49.60" font-size="23.6">10</text>
<text x="505.2" y="41.00" class="s" font-size="16.5">3</text>
<line x1="435.8" y1="75.27" x2="464.2" y2="75.27" stroke="#357ba3" stroke-width="3.8"/>
<text x="481.2" y="83.27" font-size="23.6">10</text>
<text x="505.2" y="74.67" class="s" font-size="16.5">4</text>
<line x1="435.8" y1="108.94" x2="464.2" y2="108.94" stroke="#38aaac" stroke-width="3.8"/>
<text x="481.2" y="116.94" font-size="23.6">10</text>
<text x="505.2" y="108.34" class="s" font-size="16.5">5</text>
<line x1="435.8" y1="142.61" x2="464.2" y2="142.61" stroke="#79d6ae" stroke-width="3.8"/>
<text x="481.2" y="150.61" font-size="23.6">10</text>
<text x="505.2" y="142.01" class="s" font-size="16.5">6</text>
</svg>
</body></html>
